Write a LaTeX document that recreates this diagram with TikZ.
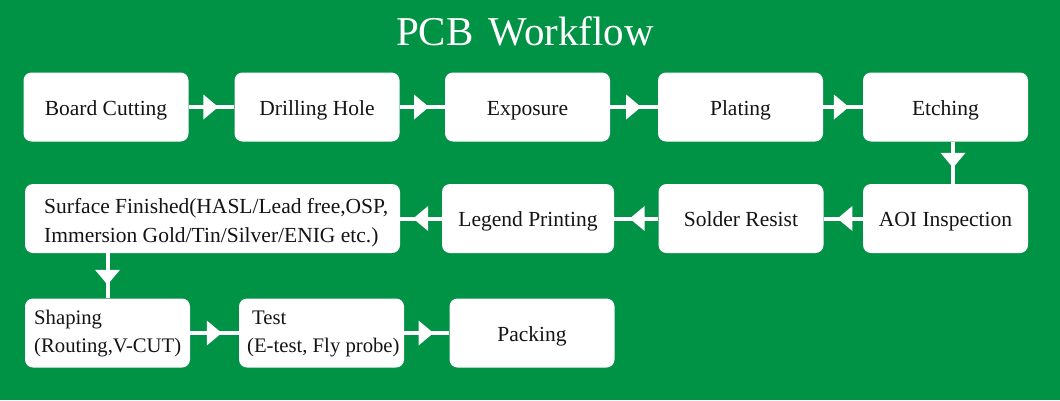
\documentclass[tikz,border=0pt]{standalone}
\usepackage{fontspec}
\setmainfont{Liberation Serif}
\usetikzlibrary{arrows.meta,decorations.markings}
\definecolor{bggreen}{RGB}{0,146,69}
\definecolor{txt}{RGB}{20,20,20}
\tikzset{
  boxfont/.style={font=\fontsize{21.5}{29}\selectfont},
  stepbox/.style={fill=white, rounded corners=8pt, minimum width=165pt, minimum height=69pt, inner sep=0pt, text=txt, boxfont, text height=16pt, text depth=0pt},
  plainbox/.style={fill=white, rounded corners=8pt, minimum width=165pt, minimum height=69pt, inner sep=0pt},
  multitext/.style={text=txt, boxfont, align=left, anchor=base west, inner sep=0pt},
  smalltext/.style={multitext, font=\fontsize{20.7}{28}\selectfont},
  conn/.style={draw=white, line width=4pt, postaction={decorate}, decoration={markings, mark=at position #1 with {\arrow[white]{Triangle[length=15pt,width=24pt]}}}},
  conn/.default=0.65
}
\begin{document}
\begin{tikzpicture}[x=1pt,y=-1pt]
\fill[bggreen] (0,0) rectangle (1060,400);
\useasboundingbox (0,0) rectangle (1060,400);
\node[text=white, font=\fontsize{41}{44}\selectfont, anchor=base] (title) at (525,45) {PCB\hspace{15pt}Workflow};
% row 1
\node[stepbox] (b1) at (106,107) {Board Cutting};
\node[stepbox] (b2) at (317,107) {Drilling Hole};
\node[stepbox] (b3) at (527.5,107) {Exposure};
\node[stepbox] (b4) at (740.5,107) {Plating};
\node[stepbox] (b5) at (945.5,107) {Etching};
% row 2
\node[stepbox] (a4) at (945.5,218.5) {AOI Inspection};
\node[stepbox] (a3) at (741,218.5) {Solder Resist};
\node[stepbox, minimum width=172pt] (a2) at (528,218.5) {Legend Printing};
\node[plainbox, minimum width=375pt] (a1) at (212.5,218.5) {};
\node[multitext] (a1t) at (44,242) {Surface Finished(HASL/Lead free,OSP,\\Immersion Gold/Tin/Silver/ENIG etc.)};
% row 3
\node[plainbox] (c1) at (107.5,333) {};
\node[smalltext] (c1t) at (34,352) {Shaping\\(Routing,V-CUT)};
\node[plainbox] (c2) at (321.5,333) {};
\node[smalltext] (c2t) at (247,352) {\hspace{5pt}Test\\(E-test, Fly probe)};
\node[stepbox] (c3) at (532,333) {Packing};
% connectors
\draw[conn] (b1) -- (b2);
\draw[conn] (b2) -- (b3);
\draw[conn] (b3) -- (b4);
\draw[conn] (b4) -- (b5);
\draw[conn=0.62] ([xshift=7.5pt]b5.south) -- ([xshift=7.5pt]a4.north);
\draw[conn] (a4) -- (a3);
\draw[conn] (a3) -- (a2);
\draw[conn=0.69] (a2) -- (a1);
\draw[conn=0.70] (a1.south -| c1.north) -- (c1.north);
\draw[conn] (c1) -- (c2);
\draw[conn] (c2) -- (c3);
\end{tikzpicture}
\end{document}
